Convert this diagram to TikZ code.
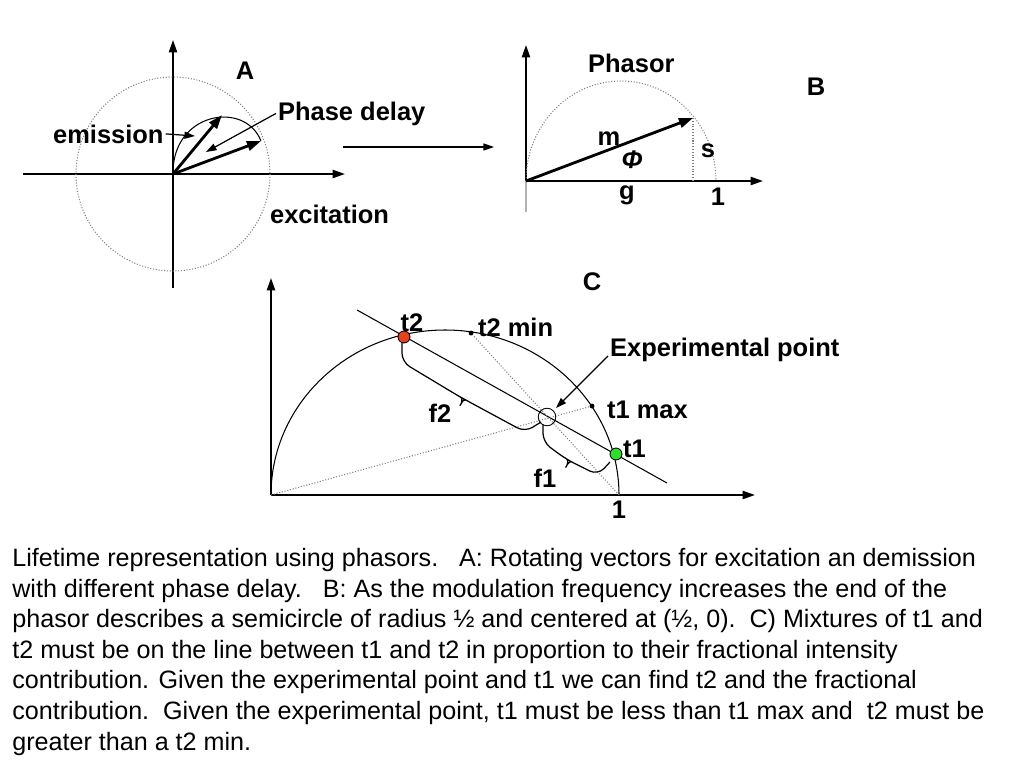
\documentclass[tikz,border=0pt]{standalone}
\usepackage{fontspec}
\setmainfont{Liberation Sans}
\usetikzlibrary{arrows.meta}
\definecolor{rouget}{RGB}{235,65,25}
\definecolor{vertt}{RGB}{40,225,40}

\begin{document}
\begin{tikzpicture}[x=0.02cm, y=-0.02cm,
    axe/.style={line width=1.1pt, -{Triangle[length=7pt,width=4.6pt]}},
    vecteur/.style={line width=1.6pt, -{Triangle[length=8pt,width=5.5pt]}},
    fleche/.style={line width=0.7pt, -{Triangle[length=6pt,width=4pt]}},
    pointille/.style={gray, densely dotted, line width=0.6pt},
    lab/.style={font=\bfseries\fontsize{14.5}{16}\selectfont, inner sep=1pt},
    gros/.style={circle, draw, line width=0.5pt, inner sep=0pt, minimum size=6.8pt},
    petit/.style={circle, fill, inner sep=0pt, minimum size=2.8pt},
    accolade/.style={line width=0.7pt, rounded corners=5pt}]
    \useasboundingbox (0,0) rectangle (1024,768);

    % Panneau A
    \coordinate (oA) at (173,174);
    \coordinate (emA) at (222,115);
    \coordinate (exA) at (261,141);
    \draw[axe] (173,288) -- (173,40);
    \draw[axe] (23,174) -- (345,174);
    \draw[pointille] (oA) circle[radius=97];
    \draw[line width=0.6pt] (oA) .. controls (172,112) and (245,100) .. (exA);
    \draw[vecteur] (oA) -- (emA);
    \draw[vecteur] (oA) -- (exA);
    \node[lab, anchor=base] (labA) at (245,79) {A};
    \node[lab, anchor=base west] (retard) at (276,120) {Phase delay};
    \node[lab, anchor=base west] (emis) at (51,143) {emission};
    \node[lab, anchor=base west] (excit) at (268,223) {excitation};
    \coordinate (retardbout) at (206,152);
    \coordinate (emisbout) at (195,136);
    \draw[fleche] (retard.west) -- (retardbout);
    \draw[fleche] (emis.east) -- (emisbout);

    % Fleche de A vers B
    \coordinate (AB1) at (343,147);
    \coordinate (AB2) at (494,147);
    \draw[fleche] (AB1) -- (AB2);

    % Panneau B
    \coordinate (oB) at (526,181);
    \coordinate (pB) at (693,118);
    \draw[gray!60, line width=0.6pt] (oB) -- (526,212);
    \draw[axe] (oB) -- (526,45);
    \draw[axe] (oB) -- (763,181);
    \draw[pointille] (oB) arc[start angle=180, end angle=360, x radius=95, y radius=100];
    \draw[pointille] (pB) -- (pB |- oB);
    \draw[vecteur] (oB) -- (pB);
    \node[lab, anchor=base west] (phasor) at (586,72) {Phasor};
    \node[lab, anchor=base] (labB) at (816,95) {B};
    \node[lab, anchor=base] (labm) at (609,145) {m};
    \node[lab, anchor=base] (labs) at (708,157) {s};
    \node[lab, anchor=base] (labphi) at (632,168) {\itshape Φ};
    \node[lab, anchor=base] (labg) at (627,199) {g};
    \node[lab, anchor=base] (labunB) at (718,205) {1};

    % Panneau C
    \coordinate (oC) at (271,495);
    \coordinate (unC) at (619,495);
    \coordinate (L1) at (357,310);
    \coordinate (L2) at (667,483);
    \draw[axe] (oC) -- (271,278);
    \draw[axe] (oC) -- (755,495);
    \draw[line width=0.6pt] (oC) arc[start angle=180, end angle=360, x radius=174, y radius=165];
    \draw[line width=0.6pt] (L1) -- (L2);
    \node[petit] (t2min) at (471,333) {};
    \node[petit] (t1max) at (592,406) {};
    \draw[pointille] (oC) -- (t1max);
    \draw[pointille] (unC) -- (t2min);
    \node[gros, fill=rouget] (t2) at (404,337) {};
    \node[gros, fill=vertt] (t1) at (616,454) {};
    \node[circle, draw, line width=0.5pt, inner sep=0pt, minimum size=10pt] (exp) at (547,417) {};

    % Accolades f2 et f1
    \draw[accolade] (402,343) -- (402,362) -- (458,395.7)
        .. controls (463,398.6) and (460.4,404.8) .. (457,410)
        .. controls (460.4,404.8) and (463.3,398.6) .. (468.5,401.5) -- (525,432) -- (541,422);
    \draw[accolade] (543,424) -- (543,442) -- (564,457.7)
        .. controls (569.3,460.6) and (566,466.8) .. (563,472)
        .. controls (566,466.8) and (569.3,460.6) .. (574.5,463.5) -- (598,475) -- (610,462);

    % Textes du panneau C
    \node[lab, anchor=base] (labC) at (592,290) {C};
    \node[lab, anchor=base] (labt2) at (412,331) {t2};
    \node[lab, anchor=base west] (labt2min) at (476,336) {t2 min};
    \node[lab, anchor=base west] (labexp) at (608,356) {Experimental point};
    \node[lab, anchor=base west] (labt1max) at (605,418) {t1 max};
    \node[lab, anchor=base west] (labt1) at (621,457) {t1};
    \node[lab, anchor=base] (labf2) at (440,422) {f2};
    \node[lab, anchor=base] (labf1) at (545,487) {f1};
    \node[lab, anchor=base] (labunC) at (619,518) {1};
    \draw[fleche, shorten >=2pt] (labexp.base west) -- (exp);

    % Legende
    \node[anchor=base west, align=left, inner sep=0pt, font=\fontsize{14.3}{17.4}\selectfont] (legende) at (12,750)
    {Lifetime representation using phasors.~~~A: Rotating vectors for excitation an demission\\
     with different phase delay.~~~B: As the modulation frequency increases the end of the\\
     phasor describes a semicircle of radius ½ and centered at (½, 0).~~C) Mixtures of t1 and\\
     t2 must be on the line between t1 and t2 in proportion to their fractional intensity\\
     contribution. Given the experimental point and t1 we can find t2 and the fractional\\
     contribution.~~Given the experimental point, t1 must be less than t1 max and~~t2 must be\\
     greater than a t2 min.};
\end{tikzpicture}
\end{document}
